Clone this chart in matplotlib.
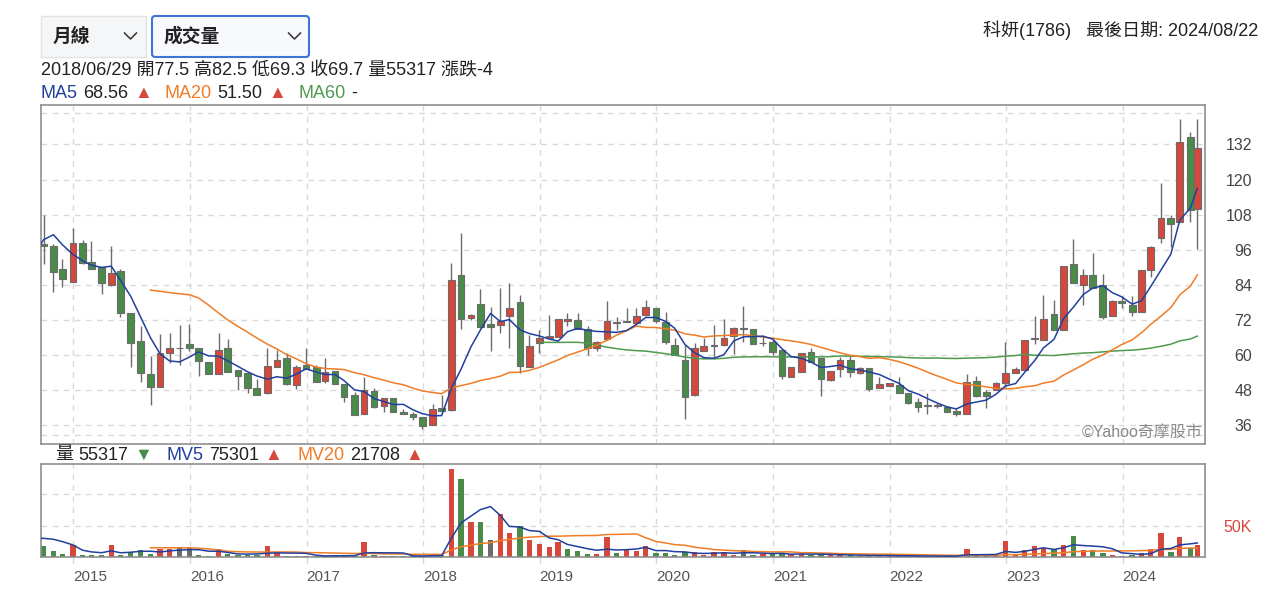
import matplotlib
import numpy as np
import pandas as pd

matplotlib.use("Agg")
import matplotlib.dates as mdates
import matplotlib.pyplot as plt
from matplotlib.lines import Line2D
from matplotlib.patches import FancyBboxPatch, Rectangle
from matplotlib.transforms import Affine2D

plt.rcParams["font.family"] = ["Liberation Sans", "Noto Sans CJK TC", "DejaVu Sans"]

# monthly candles, 2014/09 .. 2024/08 (red = up, green = down)
open_ = [
    98.0, 97.3, 89.6, 85.1,
    98.4, 91.9, 90.2, 83.9, 88.7, 74.5, 64.8, 53.7, 49.0, 60.6, 62.3, 63.8,
    62.3, 57.7, 53.7, 62.3, 54.9, 54.0, 48.9, 46.9, 55.8, 58.9, 49.7, 56.6,
    56.0, 51.2, 54.5, 50.3, 46.3, 40.0, 47.8, 42.6, 45.2, 40.4, 39.8, 38.9,
    36.0, 42.1, 41.2, 87.4, 72.6, 77.5, 70.8, 70.3, 73.3, 78.2, 56.0, 64.2,
    66.0, 66.3, 71.8, 72.0, 69.1, 62.3, 65.4, 71.0, 71.4, 71.1, 73.7, 76.0,
    71.4, 63.4, 58.3, 46.3, 61.5, 63.2, 63.5, 66.5, 68.8, 68.8, 64.3, 64.6,
    61.7, 52.6, 54.3, 61.1, 58.9, 51.4, 55.1, 58.3, 54.0, 55.7, 48.9, 49.4,
    49.7, 47.1, 44.0, 42.7, 42.7, 42.3, 41.0, 40.0, 51.2, 47.5, 48.0, 50.5,
    54.0, 54.9, 65.4, 65.1, 74.0, 68.6, 91.1, 84.0, 87.4, 84.0, 73.3, 78.6,
    77.1, 74.8, 89.1, 99.9, 106.8, 105.6, 134.7, 109.8,
]
high = [
    108.0, 98.0, 92.8, 103.3,
    99.3, 99.0, 90.2, 97.3, 89.3, 74.5, 69.9, 59.7, 67.1, 67.6, 70.3, 70.8,
    62.3, 57.7, 67.6, 65.4, 54.9, 54.0, 52.0, 62.3, 61.9, 60.6, 56.6, 62.3,
    56.6, 58.9, 54.5, 50.3, 47.4, 52.6, 48.6, 45.2, 45.2, 41.5, 40.6, 38.9,
    43.4, 46.3, 91.4, 101.8, 74.2, 82.5, 76.5, 82.8, 84.7, 80.5, 66.8, 68.6,
    73.7, 72.4, 74.3, 74.5, 69.9, 64.9, 78.6, 73.1, 76.0, 76.0, 79.0, 76.0,
    74.8, 65.7, 63.4, 64.2, 66.0, 70.3, 72.5, 69.7, 76.8, 68.8, 66.8, 66.3,
    61.7, 56.0, 60.6, 62.3, 58.9, 54.6, 59.4, 60.0, 56.0, 55.7, 52.4, 50.5,
    52.6, 47.1, 45.2, 47.1, 43.5, 42.3, 41.8, 53.5, 53.0, 48.0, 50.9, 64.6,
    56.0, 65.1, 73.3, 80.5, 78.8, 90.6, 99.6, 89.3, 94.8, 87.7, 78.8, 80.2,
    80.2, 89.1, 97.3, 118.9, 107.9, 140.7, 136.2, 140.7,
]
low = [
    91.0, 81.7, 83.4, 85.0,
    91.0, 89.6, 80.9, 83.6, 72.9, 56.0, 50.9, 42.9, 49.0, 57.2, 56.6, 61.5,
    52.8, 53.5, 53.5, 54.3, 48.0, 46.9, 46.5, 46.7, 55.8, 49.7, 48.3, 55.4,
    50.9, 50.5, 50.3, 44.0, 39.5, 40.0, 41.8, 40.4, 40.6, 39.8, 38.0, 34.9,
    36.0, 41.0, 41.0, 69.1, 72.0, 69.3, 61.5, 67.4, 62.3, 54.0, 56.0, 60.6,
    65.8, 66.3, 69.9, 68.8, 60.0, 61.5, 65.4, 68.6, 71.4, 71.1, 73.3, 71.1,
    63.8, 60.0, 38.3, 46.0, 61.5, 59.4, 63.2, 60.3, 64.6, 63.8, 63.0, 60.0,
    52.0, 52.6, 54.3, 57.7, 46.0, 51.2, 52.6, 52.6, 53.5, 47.8, 48.6, 49.4,
    46.9, 43.2, 40.6, 40.0, 42.0, 40.6, 39.1, 40.0, 45.7, 41.8, 48.0, 49.2,
    54.0, 54.9, 63.8, 65.1, 68.6, 68.6, 84.7, 77.1, 83.1, 72.2, 73.3, 76.0,
    73.3, 74.8, 86.8, 98.4, 97.1, 105.6, 105.6, 96.3,
]
close = [
    97.3, 88.5, 85.9, 98.4,
    91.4, 89.6, 84.5, 88.2, 74.3, 64.0, 54.0, 49.2, 60.6, 62.3, 62.3, 62.3,
    58.1, 53.7, 61.9, 54.3, 52.8, 48.9, 46.5, 56.4, 58.5, 50.3, 56.0, 55.4,
    50.9, 54.3, 50.3, 45.7, 39.5, 48.0, 42.3, 45.2, 40.6, 39.8, 38.7, 35.7,
    41.5, 41.0, 85.7, 72.5, 73.7, 69.7, 69.7, 71.7, 76.0, 56.2, 63.2, 65.7,
    66.5, 72.4, 72.2, 68.8, 62.6, 64.6, 71.6, 71.4, 71.7, 73.3, 76.3, 71.7,
    64.6, 60.0, 45.7, 62.3, 63.2, 63.5, 66.0, 69.3, 69.3, 63.8, 64.0, 61.1,
    52.8, 56.0, 60.6, 57.7, 51.7, 54.6, 58.3, 54.3, 55.7, 48.3, 50.3, 50.5,
    46.9, 43.5, 42.3, 42.7, 42.6, 40.6, 39.8, 50.9, 46.0, 45.9, 50.5, 54.0,
    55.1, 65.1, 65.7, 72.5, 68.6, 90.6, 84.7, 87.4, 83.1, 72.9, 78.6, 77.7,
    74.8, 89.1, 97.1, 106.8, 104.8, 133.0, 109.6, 130.9,
]
# monthly volume in thousand lots
volume_k = [
    17.9, 10.5, 4.7, 19.5,
    3.7, 4.2, 4.2, 19.5, 4.2, 7.9, 11.6, 4.7, 13.2, 13.2, 14.2, 15.3,
    4.2, 1.5, 12.6, 4.7, 3.5, 3.0, 3.0, 17.9, 7.4, 2.5, 2.0, 2.0,
    2.5, 2.0, 3.0, 2.5, 3.0, 23.7, 4.2, 2.0, 2.5, 1.5, 1.5, 2.5,
    4.5, 3.0, 139.0, 124.0, 55.3, 55.317, 27.4, 68.5, 37.9, 50.0, 27.4, 21.0,
    16.9, 23.7, 12.6, 10.0, 4.7, 4.7, 32.1, 6.3, 12.6, 10.0, 17.9, 6.3,
    6.3, 4.2, 7.9, 7.9, 4.2, 7.9, 7.9, 4.2, 11.6, 4.2, 5.0, 4.5,
    6.0, 5.0, 5.5, 4.0, 5.0, 3.0, 3.5, 3.0, 2.5, 3.5, 2.5, 2.0,
    2.0, 2.5, 2.0, 2.0, 1.5, 1.5, 2.0, 12.6, 3.0, 2.0, 2.5, 25.8,
    5.8, 11.0, 17.4, 15.3, 12.6, 19.5, 34.3, 11.0, 11.6, 6.3, 4.2, 2.0,
    4.2, 6.3, 12.6, 38.5, 8.4, 32.1, 14.8, 19.5,
]
# months before the visible window (2014/01 .. 2014/08), only feed the averages
early_close = [68.0, 72.0, 70.0, 69.0, 80.0, 103.0, 115.0, 102.0]
early_volume_k = [12, 14, 15, 16, 18, 23, 46, 45]

price_ticks = [36, 48, 60, 72, 84, 96, 108, 120, 132]
years = list(range(2015, 2025))

RED = "#d6473c"
GREEN = "#4a8b4a"
GRAY = "#6b6b6b"
BLUE = "#21409e"
ORANGE = "#f07c26"
MA_GREEN = "#4f9a4f"
GRID = "#d9d9d9"
FRAME = "#8f8f8f"

W, H = 1279, 604
fig = plt.figure(figsize=(W / 100, H / 100), dpi=100)
fig.patch.set_facecolor("white")
px = Affine2D().scale(1, -1).translate(0, H)  # image pixels, y down

dates_all = pd.date_range("2014-01-01", periods=len(early_close) + len(close), freq="BME")
dates_all = dates_all[:-1].append(pd.DatetimeIndex([pd.Timestamp("2024-08-22")]))
n_early = len(early_close)
x_all = mdates.date2num(dates_all)
x = x_all[n_early:]

closes_all = pd.Series(early_close + close)
vols_all = pd.Series(early_volume_k + volume_k) * 1000
ma5 = closes_all.rolling(5).mean()
ma20 = closes_all.rolling(20).mean()
ma60 = closes_all.rolling(60).mean()
mv5 = vols_all.rolling(5).mean()
mv20 = vols_all.rolling(20).mean()

o = np.array(open_)
h = np.array(high)
lo = np.array(low)
c = np.array(close)
vol = np.array(volume_k) * 1000

xlim = (mdates.date2num(pd.Timestamp("2014-09-22")), mdates.date2num(pd.Timestamp("2024-09-15")))
year_lines = [mdates.date2num(pd.Timestamp(f"{y}-01-01")) for y in years]

# ---- price panel
ax = fig.add_axes([41 / W, 1 - 443.5 / H, (1205 - 41) / W, (443.5 - 105) / H])
ax.set_xlim(*xlim)
ax.set_ylim(29.8, 145.5)
for v in price_ticks + [142.9, 32.6]:
    ax.axhline(v, color=GRID, lw=1, ls=(0, (4, 4)), zorder=0)
for xv in year_lines:
    ax.axvline(xv, color=GRID, lw=1, ls=(0, (4, 4)), zorder=0)

body_col = np.where(c > o, RED, np.where(c < o, GREEN, GRAY))
ax.vlines(x, lo, h, color=GRAY, lw=1, zorder=2)
ax.bar(x, np.maximum(np.abs(c - o), 0.3), bottom=np.minimum(o, c), width=21,
       color=body_col, edgecolor=GRAY, linewidth=0.8, zorder=3)
ax.plot(x_all, ma60, color=MA_GREEN, lw=1.1, zorder=4)
ax.plot(x_all, ma20, color=ORANGE, lw=1.1, zorder=4)
ax.plot(x_all, ma5, color=BLUE, lw=1.1, zorder=5)

ax.set_xticks([])
ax.yaxis.tick_right()
ax.set_yticks(price_ticks)
ax.tick_params(axis="y", length=0, pad=34, labelsize=11.5, labelcolor="#444444")
for lab in ax.get_yticklabels():
    lab.set_horizontalalignment("right")
for sp in ax.spines.values():
    sp.set_color(FRAME)
    sp.set_linewidth(1.2)
ax.text(0.998, 0.012, "©Yahoo奇摩股市", transform=ax.transAxes, ha="right", va="bottom",
        fontsize=11.5, color="#8a8a8a", zorder=6)

# ---- volume panel
vax = fig.add_axes([41 / W, 1 - 557.3 / H, (1205 - 41) / W, (557.3 - 464.3) / H])
vax.set_xlim(*xlim)
vax.set_ylim(0, 147000)
for v in (50000, 100000):
    vax.axhline(v, color=GRID, lw=1, ls=(0, (4, 4)), zorder=0)
for xv in year_lines:
    vax.axvline(xv, color=GRID, lw=1, ls=(0, (4, 4)), zorder=0)
prev_c = np.concatenate([[early_close[-1]], c[:-1]])
vol_col = np.where(c > prev_c, RED, np.where(c < prev_c, GREEN, GRAY))
vax.bar(x, vol, width=17, color=vol_col, zorder=2)
vax.plot(x_all, mv20, color=ORANGE, lw=1.1, zorder=3)
vax.plot(x_all, mv5, color=BLUE, lw=1.1, zorder=4)

vax.set_xticks(year_lines)
vax.set_xticklabels([str(y) for y in years])
vax.tick_params(axis="x", length=4.5, width=1, color="#c9d5ef", pad=5,
                labelsize=11, labelcolor="#555555")
for lab in vax.get_xticklabels():
    lab.set_horizontalalignment("left")
vax.yaxis.tick_right()
vax.set_yticks([50000])
vax.set_yticklabels(["50K"])
vax.tick_params(axis="y", length=0, pad=34, labelsize=11.5, labelcolor=RED)
for lab in vax.get_yticklabels():
    lab.set_horizontalalignment("right")
for sp in vax.spines.values():
    sp.set_color(FRAME)
    sp.set_linewidth(1.2)

# ---- header
fig.patches.append(Rectangle((41, 16), 105, 41, transform=px, facecolor="#f5f6f8",
                             edgecolor="#e2e2e2", lw=1))
fig.patches.append(FancyBboxPatch((152, 16), 157, 41, boxstyle="round,pad=0,rounding_size=3",
                                  transform=px, facecolor="#f7f9fc", edgecolor="#3f74d6", lw=1.5))
fig.text(53, 36.5, "月線", transform=px, fontsize=13.5, fontweight="bold", color="#222222",
         ha="left", va="center")
fig.text(163, 36.5, "成交量", transform=px, fontsize=13.5, fontweight="bold", color="#222222",
         ha="left", va="center")
for cx in (130.5, 294.5):
    fig.lines.append(Line2D([cx - 6, cx, cx + 6], [33, 39, 33], transform=px,
                            color="#333333", lw=1.1))

fig.text(1258, 30, "科妍(1786)   最後日期: 2024/08/22", transform=px, fontsize=13,
         color="#222222", ha="right", va="center")
fig.text(41, 71, "2018/06/29 開77.5 高82.5 低69.3 收69.7 量55317 漲跌-4", transform=px,
         fontsize=13, color="#222222", ha="left", va="center")

renderer = fig.canvas.get_renderer()


def run_text(x0, y0, parts, size):
    for s, color, gap in parts:
        t = fig.text(x0, y0, s, transform=px, fontsize=size, color=color, ha="left", va="center")
        x0 = t.get_window_extent(renderer).x1 + gap


run_text(41, 93, [("MA5", BLUE, 5), ("68.56", "#222222", 6), ("▲", RED, 13),
                  ("MA20", ORANGE, 5), ("51.50", "#222222", 6), ("▲", RED, 13),
                  ("MA60", MA_GREEN, 5), ("-", "#222222", 0)], 13)
run_text(55, 455, [("量", "#222222", 5), ("55317", "#222222", 6), ("▼", GREEN, 15),
                   ("MV5", BLUE, 5), ("75301", "#222222", 6), ("▲", RED, 15),
                   ("MV20", ORANGE, 5), ("21708", "#222222", 6), ("▲", RED, 0)], 13)

fig.savefig("out.png", dpi=100)
